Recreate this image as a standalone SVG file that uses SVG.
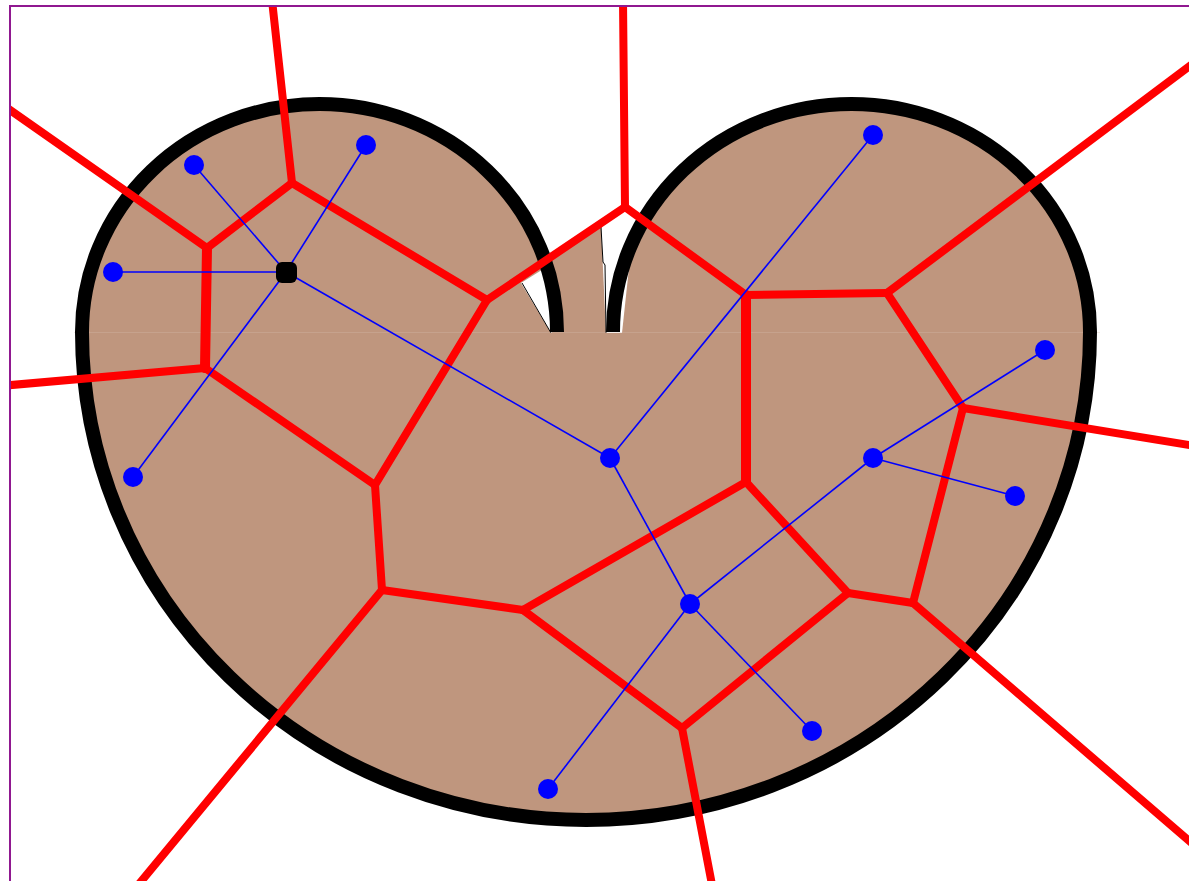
<svg xmlns="http://www.w3.org/2000/svg" width="1189" height="881" viewBox="0 0 1189 881">
<defs>
<clipPath id="frame"><rect x="10" y="6" width="1179" height="875"/></clipPath>
<style>
.red{stroke:#FF0000;stroke-width:8;fill:none;stroke-linecap:round;stroke-linejoin:round}
.redw{stroke:#FF0000;stroke-width:10;fill:none;stroke-linecap:round}
.blue{stroke:#0000FF;stroke-width:1.6;fill:none}
.site{fill:#0000FF}
.thin{stroke:#000;stroke-width:1;fill:none}
</style>
</defs>
<rect x="0" y="0" width="1189" height="881" fill="#FFFFFF"/>
<g id="shape">
<path d="M 82,332 A 237.5 228 0 0 1 557,332 L 613,332 A 238.5 228 0 0 1 1090,332 A 504 488 0 0 1 82,332 Z" fill="#BF967E"/>
<polygon points="535,268 604,221 606,333 555,333" fill="#BF967E"/>
<polygon points="521,283 545,268 552,333 551,333" fill="#FFFFFF"/>
<polygon points="601,226 635,212 622,333 606,333" fill="#FFFFFF"/>
<polyline class="thin" points="522,283 551,333"/>
<polyline class="thin" points="601,227 603,262 605,265 606,333"/>
<line x1="74" y1="332.5" x2="1100" y2="332.5" stroke="#D8C0B0" stroke-width="1" opacity="0.3"/>
<path d="M 557,332 A 237.5 228 0 0 0 82,332 A 504 488 0 0 0 1090,332 A 238.5 228 0 0 0 613,332" fill="none" stroke="#000000" stroke-width="14"/>
</g>
<g id="voronoi" clip-path="url(#frame)">
<line class="red" x1="272" y1="0" x2="292" y2="183"/>
<line class="red" x1="292" y1="183" x2="207" y2="248"/>
<line class="red" x1="292" y1="183" x2="487" y2="300"/>
<line class="red" x1="0" y1="103" x2="207" y2="248"/>
<line class="redw" x1="207" y1="248" x2="205" y2="368"/>
<line class="red" x1="0" y1="386" x2="205" y2="368"/>
<line class="red" x1="205" y1="368" x2="375" y2="485"/>
<line class="red" x1="487" y1="300" x2="375" y2="485"/>
<line class="red" x1="375" y1="485" x2="382" y2="590"/>
<line class="red" x1="487" y1="300" x2="625" y2="207"/>
<line class="red" x1="623" y1="0" x2="625" y2="207"/>
<line class="red" x1="625" y1="207" x2="746" y2="295"/>
<line class="red" x1="746" y1="295" x2="887" y2="293"/>
<line class="red" x1="887" y1="293" x2="1195" y2="62"/>
<line class="redw" x1="746" y1="295" x2="746" y2="482"/>
<line class="red" x1="887" y1="293" x2="963" y2="408"/>
<line class="red" x1="963" y1="408" x2="1195" y2="446"/>
<line class="red" x1="963" y1="408" x2="913" y2="603"/>
<line class="red" x1="913" y1="603" x2="1195" y2="846"/>
<line class="red" x1="913" y1="603" x2="848" y2="593"/>
<line class="red" x1="848" y1="593" x2="746" y2="482"/>
<line class="red" x1="848" y1="593" x2="682" y2="728"/>
<line class="red" x1="746" y1="482" x2="523" y2="610"/>
<line class="red" x1="523" y1="610" x2="382" y2="590"/>
<line class="red" x1="523" y1="610" x2="682" y2="728"/>
<line class="red" x1="682" y1="728" x2="713" y2="890"/>
<line class="red" x1="382" y1="590" x2="134" y2="890"/>
</g>
<g id="tree">
<line class="blue" x1="194" y1="165" x2="286" y2="272"/>
<line class="blue" x1="366" y1="145" x2="286" y2="272"/>
<line class="blue" x1="113" y1="272" x2="286" y2="272"/>
<line class="blue" x1="133" y1="477" x2="286" y2="272"/>
<line class="blue" x1="286" y1="272" x2="610" y2="458"/>
<line class="blue" x1="610" y1="458" x2="873" y2="135"/>
<line class="blue" x1="610" y1="458" x2="690" y2="604"/>
<line class="blue" x1="690" y1="604" x2="873" y2="458"/>
<line class="blue" x1="873" y1="458" x2="1045" y2="350"/>
<line class="blue" x1="873" y1="458" x2="1015" y2="496"/>
<line class="blue" x1="690" y1="604" x2="812" y2="731"/>
<line class="blue" x1="690" y1="604" x2="548" y2="789"/>
</g>
<g id="sites">
<circle class="site" cx="194" cy="165" r="10"/>
<circle class="site" cx="366" cy="145" r="10"/>
<circle class="site" cx="113" cy="272" r="10"/>
<circle class="site" cx="133" cy="477" r="10"/>
<circle class="site" cx="610" cy="458" r="10"/>
<circle class="site" cx="873" cy="135" r="10"/>
<circle class="site" cx="1045" cy="350" r="10"/>
<circle class="site" cx="873" cy="458" r="10"/>
<circle class="site" cx="1015" cy="496" r="10"/>
<circle class="site" cx="690" cy="604" r="10"/>
<circle class="site" cx="812" cy="731" r="10"/>
<circle class="site" cx="548" cy="789" r="10"/>
<rect id="root" x="276" y="262" width="21" height="21" rx="6" fill="#000000"/>
</g>
<g id="frame-border">
<path d="M 10,1000 L 10,6 L 1300,6" fill="none" stroke="#901890" stroke-width="2"/>
</g>
</svg>
